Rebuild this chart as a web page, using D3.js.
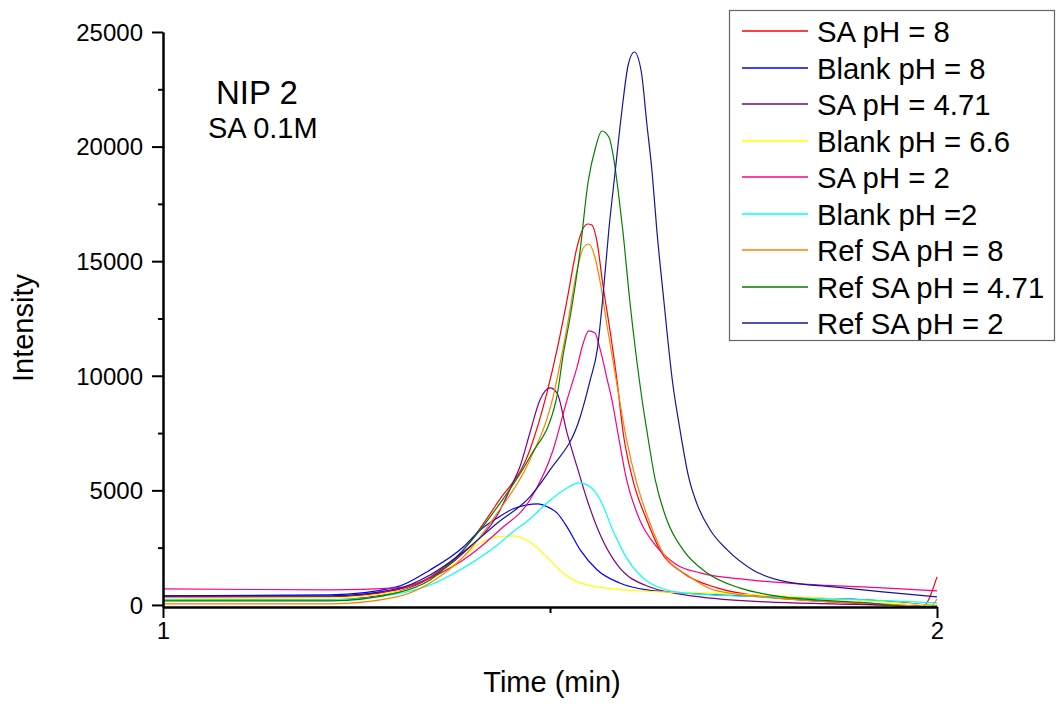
<!DOCTYPE html>
<html>
<head>
<meta charset="utf-8">
<script src="https://cdn.jsdelivr.net/npm/d3@7"></script>
<style>
  html, body { margin: 0; padding: 0; background: #fff; }
  svg { display: block; font-family: "Liberation Sans", Arial, sans-serif; }
</style>
</head>
<body>
<svg id="chart" width="1057" height="704"></svg>
<script>
// Chromatograms: intensity vs retention time (min), each series as [time, intensity]
const saPh8 = [[1.000,350],[1.177,350],[1.216,350],[1.302,654],[1.345,1222],[1.388,2400],[1.432,4450],[1.474,6763],[1.496,9250],[1.509,11126],[1.522,13307],[1.535,15620],[1.543,16449],[1.549,16623],[1.554,16579],[1.561,15794],[1.568,14049],[1.578,11868],[1.587,9686],[1.594,7635],[1.607,5454],[1.625,3709],[1.642,2400],[1.672,1396],[1.716,742],[1.780,349],[1.866,131],[1.952,-44],[1.981,-87],[2.000,1222]];
const blankPh8 = [[1.000,393],[1.216,436],[1.302,785],[1.345,1527],[1.388,2531],[1.410,3272],[1.432,3796],[1.452,4188],[1.470,4363],[1.484,4407],[1.497,4276],[1.509,4014],[1.522,3403],[1.539,2400],[1.561,1527],[1.590,960],[1.625,654],[1.672,524],[1.780,349],[1.910,218],[2.000,-44]];
const saPh471 = [[1.000,218],[1.216,218],[1.302,567],[1.345,1178],[1.388,2269],[1.432,3927],[1.452,5323],[1.461,6021],[1.474,7504],[1.487,8944],[1.500,9468],[1.509,9250],[1.522,7504],[1.535,6021],[1.548,4581],[1.565,3054],[1.587,1745],[1.629,785],[1.694,349],[1.780,131],[1.866,44],[1.974,-44],[2.000,-87]];
const blankPh66 = [[1.000,262],[1.216,305],[1.302,567],[1.345,1091],[1.388,2094],[1.410,2705],[1.432,2967],[1.451,3010],[1.474,2749],[1.496,2094],[1.517,1396],[1.539,960],[1.581,698],[1.646,567],[1.694,524],[1.823,349],[1.952,87],[2.000,-44]];
const saPh2 = [[1.000,698],[1.216,654],[1.302,742],[1.345,1178],[1.397,2182],[1.435,3272],[1.474,4581],[1.504,6763],[1.522,8944],[1.535,10384],[1.543,11431],[1.550,11955],[1.558,11868],[1.565,11126],[1.574,9817],[1.580,8944],[1.587,7635],[1.599,5454],[1.616,3709],[1.638,2531],[1.664,1745],[1.694,1396],[1.758,1091],[1.845,873],[1.930,742],[2.000,611]];
const blankPh2 = [[1.000,218],[1.216,218],[1.302,480],[1.345,872],[1.388,1614],[1.432,2618],[1.452,3185],[1.474,3752],[1.496,4450],[1.522,5105],[1.537,5323],[1.552,5148],[1.565,4581],[1.581,3272],[1.599,2051],[1.629,960],[1.672,524],[1.780,349],[1.910,218],[2.000,87]];
const refSaPh8 = [[1.000,44],[1.216,44],[1.302,349],[1.345,960],[1.388,2094],[1.432,4014],[1.474,6326],[1.504,9075],[1.522,12129],[1.535,14616],[1.543,15576],[1.550,15750],[1.558,15183],[1.565,14049],[1.574,12129],[1.587,9511],[1.599,7199],[1.612,5323],[1.629,3578],[1.646,2269],[1.681,1222],[1.716,611],[1.823,218],[1.952,0],[1.991,-87],[2.000,262]];
const refSaPh471 = [[1.000,175],[1.216,175],[1.302,524],[1.345,1091],[1.388,2400],[1.432,4276],[1.474,6457],[1.508,8944],[1.517,10908],[1.526,12565],[1.539,15489],[1.549,18412],[1.559,19983],[1.567,20681],[1.576,20420],[1.584,19110],[1.589,17801],[1.594,16361],[1.603,13307],[1.619,8944],[1.625,7635],[1.636,5454],[1.651,3709],[1.672,2400],[1.703,1396],[1.745,742],[1.801,349],[1.910,87],[1.974,-87],[2.000,-44]];
const refSaPh2 = [[1.000,393],[1.216,393],[1.302,698],[1.345,1309],[1.388,2312],[1.432,3578],[1.474,4712],[1.500,5890],[1.539,8202],[1.552,9817],[1.561,11126],[1.568,13307],[1.576,16361],[1.584,18848],[1.593,21597],[1.601,23560],[1.609,24127],[1.618,23255],[1.625,21030],[1.632,18848],[1.638,16361],[1.647,13307],[1.658,9817],[1.668,7635],[1.679,5600],[1.690,4400],[1.707,3270],[1.729,2400],[1.762,1527],[1.806,1003],[1.866,785],[1.930,567],[2.000,349]];

const seriesNames = ["SA pH = 8", "Blank pH = 8", "SA pH = 4.71", "Blank pH = 6.6", "SA pH = 2", "Blank pH =2", "Ref SA pH = 8", "Ref SA pH = 4.71", "Ref SA pH = 2"];
const seriesColors = ["#ff0000", "#0000ff", "#800080", "#ffff00", "#ff0080", "#00ffff", "#ff8000", "#008000", "#1414a0"];
const seriesValues = [saPh8, blankPh8, saPh471, blankPh66, saPh2, blankPh2, refSaPh8, refSaPh471, refSaPh2];

const xMajorTicks = [1, 2];
const xMinorTicks = [1.5];
const yMajorTicks = [0, 5000, 10000, 15000, 20000, 25000];
const yMinorTicks = [2500, 7500, 12500, 17500, 22500];

const svg = d3.select("#chart");
const font = "'Liberation Sans', Arial, sans-serif";

const x = d3.scaleLinear().domain([1, 2]).range([163, 937]);
const y = d3.scaleLinear().domain([-90, 25000]).range([607, 32]);

// plot lines
const line = d3.line()
  .x(d => x(d[0]))
  .y(d => y(d[1]))
  .curve(d3.curveMonotoneX);

svg.append("g").selectAll("path")
  .data(seriesValues)
  .join("path")
  .attr("d", line)
  .attr("fill", "none")
  .attr("stroke", (d, i) => seriesColors[i])
  .attr("stroke-width", 1.2);

// axes
function styleAxis(g) {
  g.select(".domain").attr("stroke", "#000").attr("stroke-width", 2);
  g.selectAll(".tick line").attr("stroke", "#000").attr("stroke-width", 2);
  g.selectAll(".tick text").attr("fill", "#000").attr("font-family", font);
}

const yAxisMinor = svg.append("g").attr("transform", "translate(163,0)")
  .call(d3.axisLeft(y).tickValues(yMinorTicks).tickSize(5).tickSizeOuter(0).tickFormat(""));
styleAxis(yAxisMinor);

const yAxis = svg.append("g").attr("transform", "translate(163,0)")
  .call(d3.axisLeft(y).tickValues(yMajorTicks).tickSize(11).tickSizeOuter(0).tickPadding(9).tickFormat(d3.format("d")));
styleAxis(yAxis);
yAxis.selectAll(".tick text").attr("font-size", 24).attr("dy", "0.35em");

const xAxisMinor = svg.append("g").attr("transform", "translate(0,607)")
  .call(d3.axisBottom(x).tickValues(xMinorTicks).tickSize(6).tickSizeOuter(0).tickFormat(""));
styleAxis(xAxisMinor);

const xAxis = svg.append("g").attr("transform", "translate(0,607)")
  .call(d3.axisBottom(x).tickValues(xMajorTicks).tickSize(11).tickSizeOuter(0).tickPadding(4).tickFormat(d3.format("d")));
styleAxis(xAxis);
xAxis.selectAll(".tick text").attr("font-size", 24).attr("dy", "0.71em");

// axis titles
svg.append("text")
  .attr("transform", "translate(33,328) rotate(-90)")
  .attr("text-anchor", "middle")
  .attr("font-family", font).attr("font-size", 29)
  .text("Intensity");

svg.append("text")
  .attr("x", 552).attr("y", 692)
  .attr("text-anchor", "middle")
  .attr("font-family", font).attr("font-size", 29)
  .text("Time (min)");

// annotation
svg.append("text")
  .attr("x", 216).attr("y", 104)
  .attr("font-family", font).attr("font-size", 33)
  .text("NIP 2");
svg.append("text")
  .attr("x", 208).attr("y", 138)
  .attr("font-family", font).attr("font-size", 29)
  .text("SA 0.1M");

// legend
const legend = svg.append("g");
legend.append("rect")
  .attr("x", 729.5).attr("y", 10.5)
  .attr("width", 325).attr("height", 330)
  .attr("fill", "#fff").attr("stroke", "#666").attr("stroke-width", 1.2);

const rows = legend.selectAll("g.row")
  .data(seriesNames)
  .join("g")
  .attr("class", "row")
  .attr("transform", (d, i) => `translate(0,${Math.round(31 + i * 36.5)})`);

rows.append("line")
  .attr("x1", 742).attr("x2", 808)
  .attr("y1", 0).attr("y2", 0)
  .attr("stroke", (d, i) => seriesColors[i])
  .attr("stroke-width", 1.6);

rows.append("text")
  .attr("x", 817).attr("y", 10.5)
  .attr("font-family", font).attr("font-size", 29.3)
  .attr("fill", "#000")
  .text(d => d);
</script>
</body>
</html>
